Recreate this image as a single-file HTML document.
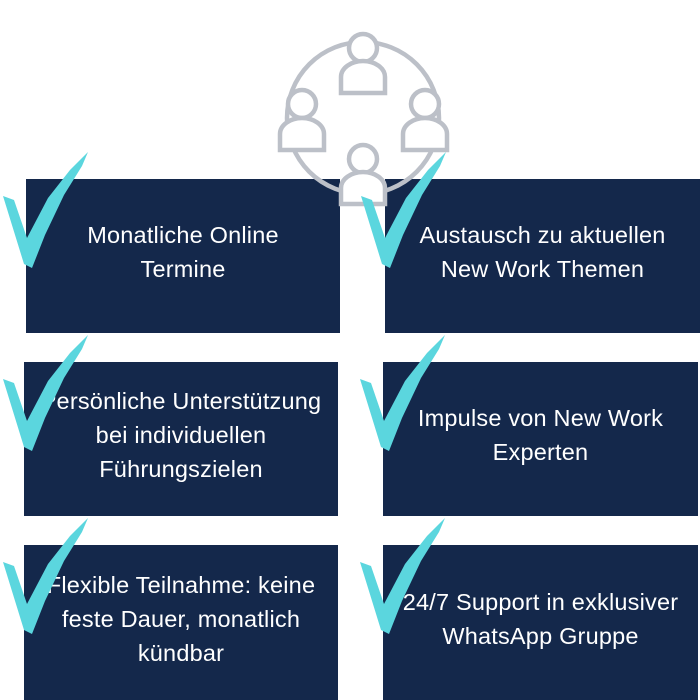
<!DOCTYPE html>
<html><head><style>
body{margin:0;width:700px;height:700px;background:#fff;position:relative;overflow:hidden;font-family:"Liberation Sans",sans-serif}
.b{position:absolute;background:#14284b;color:#fff;font-size:23.5px;line-height:34px;display:flex;align-items:center;justify-content:center;text-align:center;white-space:nowrap;padding-bottom:8px;box-sizing:border-box;letter-spacing:0.2px}
svg{position:absolute;left:0;top:0}
</style></head><body>
<div class="b" style="left:26px;top:179px;width:314px;height:154px">Monatliche Online<br>Termine</div>
<div class="b" style="left:385px;top:179px;width:315px;height:154px">Austausch zu aktuellen<br>New Work Themen</div>
<div class="b" style="left:24px;top:362px;width:314px;height:154px">Persönliche Unterstützung<br>bei individuellen<br>Führungszielen</div>
<div class="b" style="left:383px;top:362px;width:315px;height:154px">Impulse von New Work<br>Experten</div>
<div class="b" style="left:24px;top:545px;width:314px;height:155px">Flexible Teilnahme: keine<br>feste Dauer, monatlich<br>kündbar</div>
<div class="b" style="left:383px;top:545px;width:315px;height:155px">24/7 Support in exklusiver<br>WhatsApp Gruppe</div>
<svg width="700" height="700">
<g fill="none" stroke="#bcc0c8" stroke-width="4.5">
<circle cx="363" cy="118" r="76"/>
</g>
<g stroke="#bcc0c8" stroke-width="4.5" fill="#fff">
<circle cx="363" cy="48" r="14"/><path d="M341 93 V77 a22 16 0 0 1 44 0 V93 Z"/>
<circle cx="302" cy="104" r="14"/><path d="M280 150 V134 a22 16 0 0 1 44 0 V150 Z"/>
<circle cx="425" cy="104" r="14"/><path d="M403 150 V134 a22 16 0 0 1 44 0 V150 Z"/>
<circle cx="363" cy="159" r="14"/><path d="M341 204 V188 a22 16 0 0 1 44 0 V204 Z"/>
</g>
<defs><path id="ck" d="M3 196 L14 200 L27 238 L48 198 L70 170 L88 152 L82 166 L64 195 L45 235 L32 268 L24 264 Z" fill="#5bd6de"/></defs>
<use href="#ck"/><use href="#ck" x="358"/>
<use href="#ck" y="183"/><use href="#ck" x="357" y="183"/>
<use href="#ck" y="366"/><use href="#ck" x="357" y="366"/>
</svg>
</body></html>
